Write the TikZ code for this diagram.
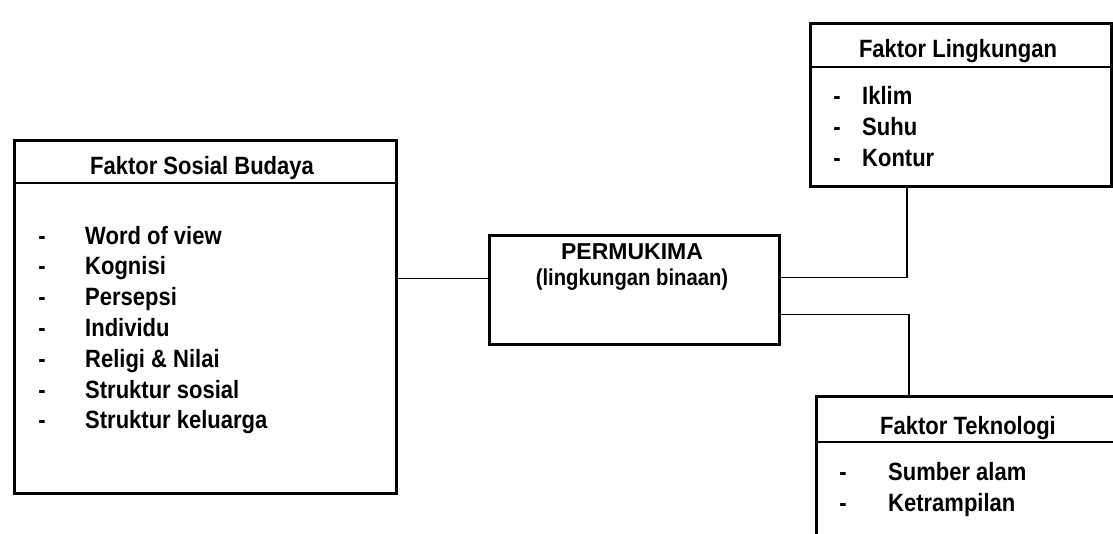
\documentclass[tikz,border=0pt]{standalone}
\usepackage{fontspec}
\setmainfont{Liberation Sans}[FakeStretch=0.88]
\newfontfamily\permfont{Liberation Sans}
\usetikzlibrary{positioning}

\begin{document}
\begin{tikzpicture}[x=1pt,y=-1pt,
    box/.style={draw,line width=2.8pt,rectangle,anchor=north west,inner sep=0pt},
    sepline/.style={line width=1.6pt},
    link/.style={line width=1.8pt},
    txt/.style={font=\fontsize{25}{30}\selectfont\bfseries,inner sep=0pt,anchor=base}]
    \useasboundingbox (0,0) rectangle (1113,533);
    \clip (0,0) rectangle (1113,533);

    % Boxes
    \node[box,minimum width=382pt,minimum height=353pt] (sosial) at (13,139) {};
    \node[box,minimum width=290pt,minimum height=109pt] (permukima) at (488,234) {};
    \node[box,minimum width=301pt,minimum height=163pt] (lingkungan) at (809,22) {};
    \node[box,minimum width=310pt,minimum height=200pt] (teknologi) at (815,395) {};

    % Header lines
    \draw[sepline] (13,183) -- (395,183);
    \draw[sepline] (809,67) -- (1110,67);
    \draw[sepline] (815,442) -- (1113,442);

    % Titles
    \node[txt] (sosialtitle) at (202,174) {Faktor Sosial Budaya};
    \node[txt] (lingtitle) at (958,57) {Faktor Lingkungan};
    \node[txt] (tektitle) at (968,434) {Faktor Teknologi};
    \node[txt,font=\permfont\fontsize{23}{27}\selectfont\bfseries] (permtitle) at (632,259) {PERMUKIMA};
    \node[txt,font=\fontsize{23}{27}\selectfont\bfseries] (permsub) at (632,285) {(lingkungan binaan)};

    % Faktor Sosial Budaya items
    \foreach \lbl [count=\i from 0] in {Word of view,Kognisi,Persepsi,Individu,Religi \& Nilai,Struktur sosial,Struktur keluarga}{
        \node[txt] at (42,244+30.8*\i) {-};
        \node[txt,anchor=base west] (sos\i) at (85,244+30.8*\i) {\lbl};
    }

    % Faktor Lingkungan items
    \foreach \lbl [count=\i from 0] in {Iklim,Suhu,Kontur}{
        \node[txt] at (837,104+31*\i) {-};
        \node[txt,anchor=base west] (ling\i) at (862,104+31*\i) {\lbl};
    }

    % Faktor Teknologi items
    \foreach \lbl [count=\i from 0] in {Sumber alam,Ketrampilan}{
        \node[txt] at (843,480+31*\i) {-};
        \node[txt,anchor=base west] (tek\i) at (888,480+31*\i) {\lbl};
    }

    % Connectors
    \coordinate (permin) at ([yshift=11.5pt]permukima.west);
    \coordinate (lingtap) at (907,185);
    \coordinate (tektap) at (909,395);
    \draw[link] (sosial.east |- permin) -- (permin);
    \draw[link] ([yshift=12.5pt]permukima.east) -| (lingtap);
    \draw[link] ([yshift=-24.5pt]permukima.east) -| (tektap);
\end{tikzpicture}
\end{document}
